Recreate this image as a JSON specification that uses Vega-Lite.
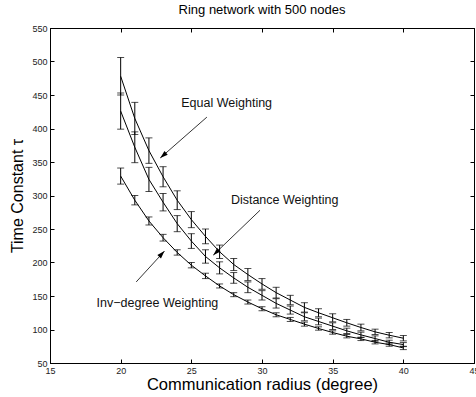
{
  "$schema": "https://vega.github.io/schema/vega-lite/v6.json",
  "width": 424,
  "height": 335,
  "autosize": {"type": "none"},
  "padding": {"left": 50, "top": 28, "right": 2, "bottom": 34},
  "background": "white",
  "title": {"text": "Ring network with 500 nodes", "fontSize": 13, "fontWeight": "normal", "font": "Liberation Sans", "color": "#000", "offset": 7, "anchor": "middle"},
  "config": {
    "view": {"stroke": "black", "strokeWidth": 1},
    "axis": {"domainColor": "black", "domainWidth": 1, "tickColor": "black", "tickWidth": 1, "labelColor": "#222", "labelFont": "Liberation Sans", "labelFontSize": 9, "titleFont": "Liberation Sans", "titleFontSize": 16.5, "titleFontWeight": "normal", "titleColor": "#000", "grid": false, "tickSize": -4, "labelFlush": false}
  },
  "datasets": {
    "curves": [
      {"series": "Equal", "r": 20, "tau": 478, "err": 28},
      {"series": "Equal", "r": 21, "tau": 415, "err": 24},
      {"series": "Equal", "r": 22, "tau": 367, "err": 19},
      {"series": "Equal", "r": 23, "tau": 328, "err": 15},
      {"series": "Equal", "r": 24, "tau": 293, "err": 14},
      {"series": "Equal", "r": 25, "tau": 264, "err": 12},
      {"series": "Equal", "r": 26, "tau": 239, "err": 11},
      {"series": "Equal", "r": 27, "tau": 216, "err": 10},
      {"series": "Equal", "r": 28, "tau": 197, "err": 9},
      {"series": "Equal", "r": 29, "tau": 182, "err": 9},
      {"series": "Equal", "r": 30, "tau": 168, "err": 8},
      {"series": "Equal", "r": 31, "tau": 155, "err": 8},
      {"series": "Equal", "r": 32, "tau": 144, "err": 7},
      {"series": "Equal", "r": 33, "tau": 133, "err": 7},
      {"series": "Equal", "r": 34, "tau": 125, "err": 6},
      {"series": "Equal", "r": 35, "tau": 117.5, "err": 6},
      {"series": "Equal", "r": 36, "tau": 110, "err": 5},
      {"series": "Equal", "r": 37, "tau": 103, "err": 5},
      {"series": "Equal", "r": 38, "tau": 96.5, "err": 4},
      {"series": "Equal", "r": 39, "tau": 91.5, "err": 4},
      {"series": "Equal", "r": 40, "tau": 87, "err": 4},
      {"series": "Distance", "r": 20, "tau": 426, "err": 27},
      {"series": "Distance", "r": 21, "tau": 372, "err": 23},
      {"series": "Distance", "r": 22, "tau": 324, "err": 18},
      {"series": "Distance", "r": 23, "tau": 290, "err": 13},
      {"series": "Distance", "r": 24, "tau": 258, "err": 12},
      {"series": "Distance", "r": 25, "tau": 232, "err": 11},
      {"series": "Distance", "r": 26, "tau": 209, "err": 10},
      {"series": "Distance", "r": 27, "tau": 192, "err": 9},
      {"series": "Distance", "r": 28, "tau": 177, "err": 8},
      {"series": "Distance", "r": 29, "tau": 163, "err": 8},
      {"series": "Distance", "r": 30, "tau": 151, "err": 7},
      {"series": "Distance", "r": 31, "tau": 139, "err": 7},
      {"series": "Distance", "r": 32, "tau": 129, "err": 6},
      {"series": "Distance", "r": 33, "tau": 119, "err": 6},
      {"series": "Distance", "r": 34, "tau": 112, "err": 5},
      {"series": "Distance", "r": 35, "tau": 105, "err": 5},
      {"series": "Distance", "r": 36, "tau": 98, "err": 4},
      {"series": "Distance", "r": 37, "tau": 92, "err": 4},
      {"series": "Distance", "r": 38, "tau": 86.5, "err": 4},
      {"series": "Distance", "r": 39, "tau": 81, "err": 3},
      {"series": "Distance", "r": 40, "tau": 77.5, "err": 3},
      {"series": "Inv", "r": 20, "tau": 329, "err": 12},
      {"series": "Inv", "r": 21, "tau": 293, "err": 7},
      {"series": "Inv", "r": 22, "tau": 262, "err": 6},
      {"series": "Inv", "r": 23, "tau": 237, "err": 5},
      {"series": "Inv", "r": 24, "tau": 215, "err": 4},
      {"series": "Inv", "r": 25, "tau": 196, "err": 4},
      {"series": "Inv", "r": 26, "tau": 180, "err": 4},
      {"series": "Inv", "r": 27, "tau": 165, "err": 3},
      {"series": "Inv", "r": 28, "tau": 152, "err": 3},
      {"series": "Inv", "r": 29, "tau": 141, "err": 3},
      {"series": "Inv", "r": 30, "tau": 131, "err": 3},
      {"series": "Inv", "r": 31, "tau": 122, "err": 3},
      {"series": "Inv", "r": 32, "tau": 115, "err": 3},
      {"series": "Inv", "r": 33, "tau": 108, "err": 3},
      {"series": "Inv", "r": 34, "tau": 101.5, "err": 2.5},
      {"series": "Inv", "r": 35, "tau": 95.5, "err": 2.5},
      {"series": "Inv", "r": 36, "tau": 90, "err": 2.5},
      {"series": "Inv", "r": 37, "tau": 86, "err": 2.5},
      {"series": "Inv", "r": 38, "tau": 81, "err": 2.5},
      {"series": "Inv", "r": 39, "tau": 77.5, "err": 2.5},
      {"series": "Inv", "r": 40, "tau": 72.5, "err": 2.5}
    ],
    "notes": [
      {"name": "Equal", "label": "Equal Weighting", "tx": 27.5, "ty": 438, "x1": 26.1, "y1": 417, "x2": 22.8, "y2": 356},
      {"name": "Distance", "label": "Distance Weighting", "tx": 31.6, "ty": 294, "x1": 29.86, "y1": 278, "x2": 26.55, "y2": 211},
      {"name": "Inv", "label": "Inv\u2212degree Weighting", "tx": 22.6, "ty": 139, "x1": 21.1, "y1": 171, "x2": 23.1, "y2": 217}
    ]
  },
  "resolve": {"axis": {"x": "independent", "y": "independent"}},
  "layer": [
    {
      "data": {"name": "curves"},
      "mark": {"type": "line", "color": "black", "strokeWidth": 1},
      "encoding": {
        "x": {"field": "r", "type": "quantitative", "scale": {"domain": [15, 45], "nice": false}, "axis": {"orient": "bottom", "values": [15, 20, 25, 30, 35, 40, 45], "title": "Communication radius (degree)", "labelPadding": 7, "titlePadding": 1}},
        "y": {"field": "tau", "type": "quantitative", "scale": {"domain": [50, 550], "nice": false, "zero": false}, "axis": {"orient": "left", "values": [50, 100, 150, 200, 250, 300, 350, 400, 450, 500, 550], "title": "Time Constant \u03c4", "titleFontSize": 16, "labelPadding": 7, "titlePadding": 6}},
        "detail": {"field": "series"}
      }
    },
    {
      "data": {"name": "curves"},
      "mark": {"type": "errorbar", "ticks": {"size": 7}, "color": "black", "thickness": 1},
      "encoding": {
        "x": {"field": "r", "type": "quantitative", "axis": null},
        "y": {"field": "tau", "type": "quantitative", "axis": null},
        "yError": {"field": "err"},
        "detail": {"field": "series"}
      }
    },
    {
      "data": {"name": "notes"},
      "mark": {"type": "rule", "color": "black", "strokeWidth": 0.8},
      "encoding": {
        "x": {"field": "x1", "type": "quantitative", "axis": null},
        "y": {"field": "y1", "type": "quantitative", "axis": null},
        "x2": {"field": "x2"},
        "y2": {"field": "y2"}
      }
    },
    {
      "data": {"name": "notes"},
      "transform": [{"filter": "datum.name == 'Equal'"}],
      "mark": {"type": "point", "shape": "M0,0L-0.35,1.1L0.35,1.1Z", "filled": true, "color": "black", "opacity": 1, "size": 200, "angle": 229},
      "encoding": {
        "x": {"field": "x2", "type": "quantitative", "axis": null},
        "y": {"field": "y2", "type": "quantitative", "axis": null}
      }
    },
    {
      "data": {"name": "notes"},
      "transform": [{"filter": "datum.name == 'Distance'"}],
      "mark": {"type": "point", "shape": "M0,0L-0.35,1.1L0.35,1.1Z", "filled": true, "color": "black", "opacity": 1, "size": 200, "angle": 226},
      "encoding": {
        "x": {"field": "x2", "type": "quantitative", "axis": null},
        "y": {"field": "y2", "type": "quantitative", "axis": null}
      }
    },
    {
      "data": {"name": "notes"},
      "transform": [{"filter": "datum.name == 'Inv'"}],
      "mark": {"type": "point", "shape": "M0,0L-0.35,1.1L0.35,1.1Z", "filled": true, "color": "black", "opacity": 1, "size": 200, "angle": 43},
      "encoding": {
        "x": {"field": "x2", "type": "quantitative", "axis": null},
        "y": {"field": "y2", "type": "quantitative", "axis": null}
      }
    },
    {
      "data": {"name": "notes"},
      "mark": {"type": "text", "font": "Liberation Sans", "fontSize": 12.5, "color": "#111", "align": "center", "baseline": "middle"},
      "encoding": {
        "x": {"field": "tx", "type": "quantitative", "axis": null},
        "y": {"field": "ty", "type": "quantitative", "axis": null},
        "text": {"field": "label"}
      }
    },
    {
      "data": {"name": "notes"},
      "mark": {"type": "point", "opacity": 0},
      "encoding": {
        "x": {"field": "tx", "type": "quantitative", "axis": {"orient": "top", "values": [15, 20, 25, 30, 35, 40, 45], "labels": false, "title": null}},
        "y": {"field": "ty", "type": "quantitative", "axis": {"orient": "right", "values": [50, 100, 150, 200, 250, 300, 350, 400, 450, 500, 550], "labels": false, "title": null}}
      }
    }
  ]
}
